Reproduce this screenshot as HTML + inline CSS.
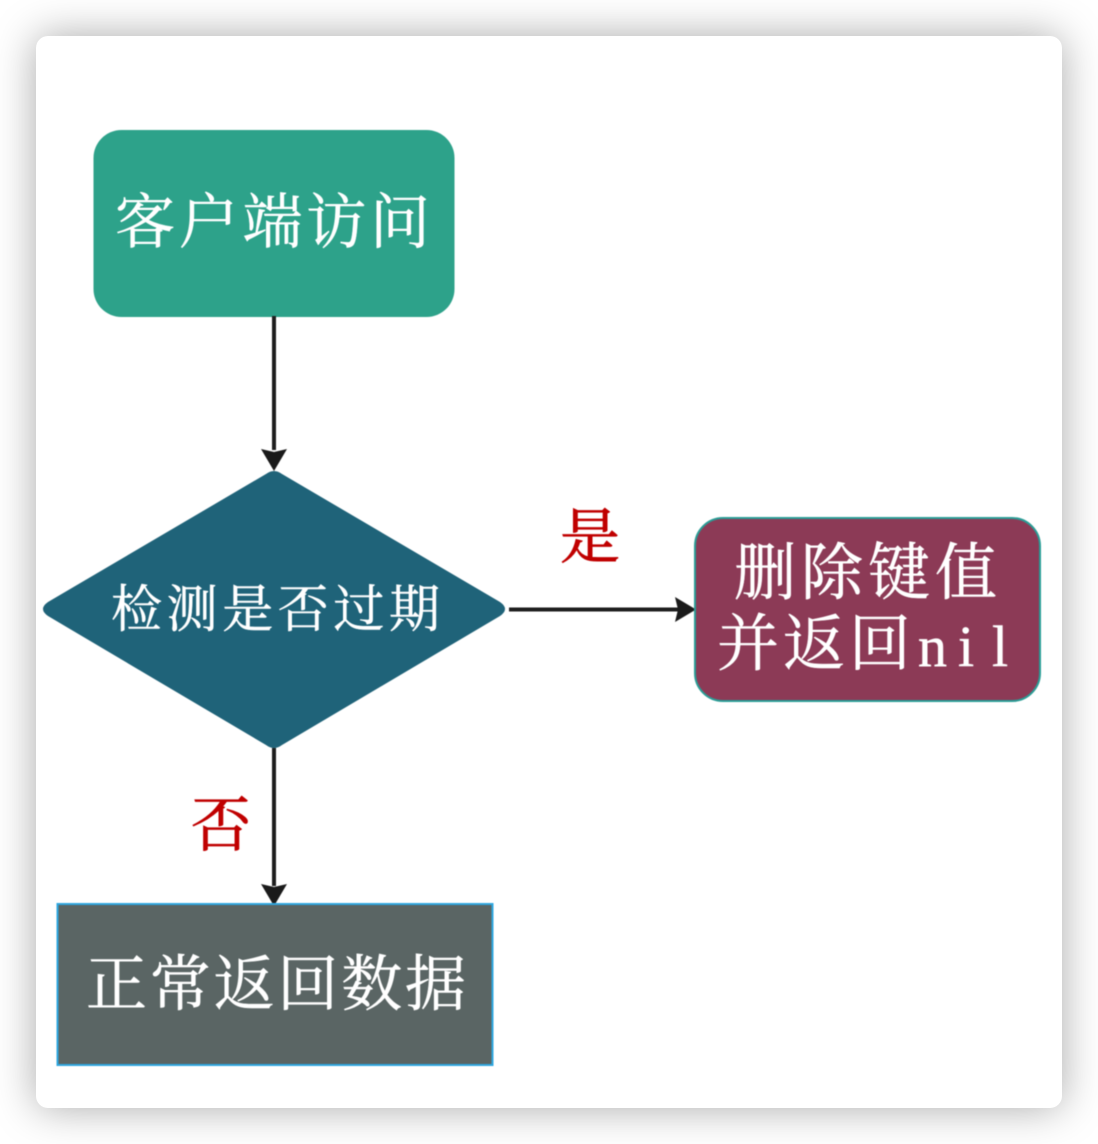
<!DOCTYPE html>
<html lang="zh">
<head>
<meta charset="utf-8">
<title>Flowchart</title>
<style>
html,body{margin:0;padding:0;background:#fff;width:1098px;height:1144px;overflow:hidden}
#card{position:absolute;left:36px;top:36px;width:1026px;height:1072px;background:#fff;border-radius:12px;box-shadow:0 0 42px rgba(0,0,0,.34)}
svg{position:absolute;left:0;top:0;filter:blur(.6px)}
text{font-family:"Liberation Serif","Noto Serif CJK SC",serif;fill:#fff;stroke:#fff;stroke-width:.5px}
text.red{fill:#c00000;stroke:#c00000;stroke-width:.8px}
</style>
</head>
<body>
<div id="card"></div>
<svg width="1098" height="1144" viewBox="0 0 1098 1144">
<rect x="93.500" y="130" width="361" height="187" rx="28" fill="#2da28a"/>
<text x="115" y="243" font-size="60" textLength="315">客户端访问</text>
<line x1="274" y1="316" x2="274" y2="450" stroke="#1e1e1e" stroke-width="4"/>
<polygon points="261,449 274,452 287,449 274,471" fill="#1a1a1a"/>
<path d="M266 474 Q274 468 282 474 L500 602 Q510 609 500 616 L282 745 Q274 751 266 745 L48 616 Q38 609 48 602 Z" fill="#1f6379"/>
<text x="111" y="627" font-size="51" textLength="329">检测是否过期</text>
<line x1="509" y1="609.500" x2="680" y2="609.500" stroke="#1e1e1e" stroke-width="4"/>
<polygon points="675,597 678,609.500 675,622 696,609.500" fill="#1a1a1a"/>
<text class="red" x="560" y="558" font-size="60">是</text>
<rect x="695" y="518" width="345" height="183" rx="28" fill="#8c3a56" stroke="#2a9d96" stroke-width="2"/>
<text x="734" y="594" font-size="62" textLength="263">删除键值</text>
<text x="717" y="665" font-size="62" textLength="194">并返回</text>
<text x="918 958 992" y="666" font-size="58">nil</text>
<line x1="274" y1="748" x2="274" y2="886" stroke="#1e1e1e" stroke-width="4"/>
<polygon points="261,884 274,887 287,884 274,906" fill="#1a1a1a"/>
<text class="red" x="191" y="846" font-size="60">否</text>
<rect x="57.500" y="904" width="435" height="161" fill="#5a6564" stroke="#2ea7e0" stroke-width="2"/>
<text x="86" y="1005" font-size="61" textLength="380">正常返回数据</text>
</svg>
</body>
</html>
